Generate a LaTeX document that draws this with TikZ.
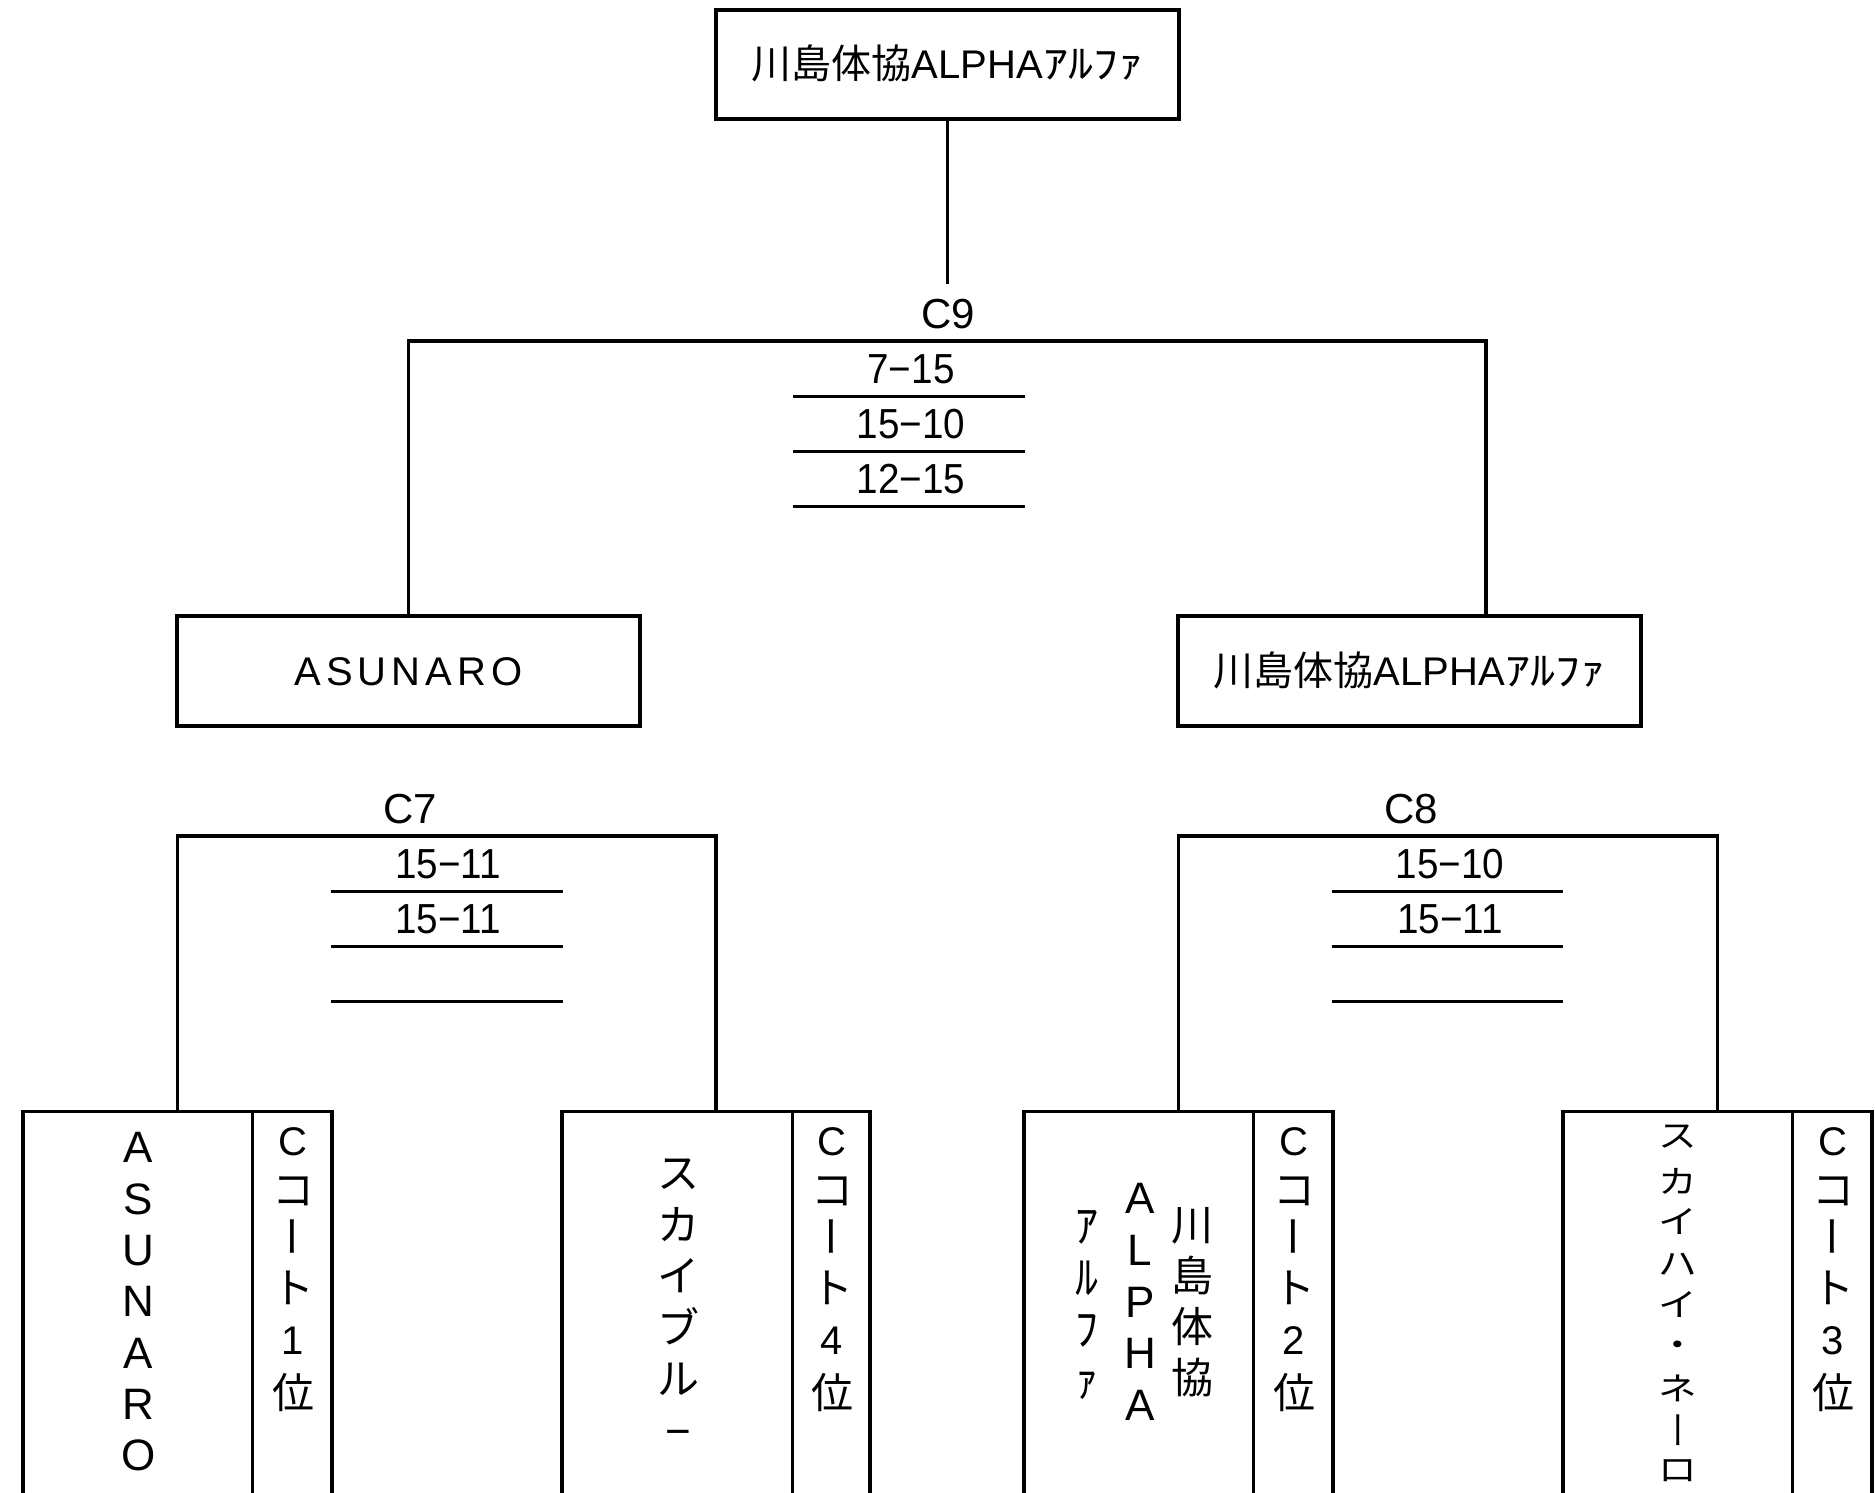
\documentclass[tikz,border=0pt]{standalone}
\usepackage{fontspec}
\setmainfont{Liberation Sans}
\newfontfamily\jp{Noto Sans CJK JP}
\newfontfamily\nar[FakeStretch=0.92]{Liberation Sans}
\begin{document}
\begin{tikzpicture}[x=1pt,y=-1pt,
  line/.style={line width=3.3pt},
  sline/.style={line width=3pt},
  frame/.style={draw, line width=3.3pt, rectangle, inner sep=0pt},
  vch/.style={inner sep=0pt, text depth=0pt, anchor=center},
  boxtxt/.style={font=\fontsize{40}{40}\selectfont, text height=28.8pt, text depth=0pt},
  lbl/.style={vch, text height=30.2pt, font=\fontsize{42}{42}\selectfont},
  score/.style={vch, text height=30.2pt, font=\nar\fontsize{42}{42}\selectfont},
  nl/.style={vch, text height=31.7pt, font=\fontsize{44}{44}\selectfont},
  nj/.style={vch, text height=31.9pt, font=\jp\fontsize{42}{42}\selectfont},
  nk/.style={vch, text height=35pt, font=\jp\fontsize{46}{46}\selectfont},
  cl/.style={vch, text height=28.8pt, font=\fontsize{40}{40}\selectfont},
  cj/.style={vch, text height=31.9pt, font=\jp\fontsize{42}{42}\selectfont},
  cjr/.style={cj, rotate=90},
  sq/.style={vch, text height=24.3pt, font=\jp\fontsize{42}{42}\selectfont},
  rotch/.style={rotate=90},
  nr/.style={}
]
\useasboundingbox (0,0) rectangle (1875,1492);
\fill[white] (0,0) rectangle (1875,1492);
\begin{scope}
\clip (0,0) rectangle (1875,1492);

% ---- top box and final
\node[frame, boxtxt, minimum width=463pt, minimum height=109pt] (top) at (947.5,64.5)
  {{\jp 川島体協}ALPHA{\jp\scalebox{1.25}[1]{ｱﾙﾌｧ}}};
\coordinate (t1) at (947.5,284);
\draw[line] (top.south) -- (t1);

\node[lbl] (c9) at (948,313) {C9};
\node[frame, boxtxt, minimum width=463pt, minimum height=110pt] (midL) at (408.5,671)
  {A\kern5pt S\kern5pt U\kern5pt N\kern5pt A\kern5pt R\kern5pt O};
\node[frame, boxtxt, minimum width=463pt, minimum height=110pt] (midR) at (1409.5,671)
  {{\jp 川島体協}ALPHA{\jp\scalebox{1.25}[1]{ｱﾙﾌｧ}}};
\coordinate (c9l) at (408.5,341);
\coordinate (c9r) at (1486,341);
\draw[line] (midL.north) -- (c9l) -- (c9r) -- (c9r |- midR.north);

% C9 scores
\node[score] (s91) at (911,368) {7−15};
\node[score] (s92) at (911,423) {15−10};
\node[score] (s93) at (911,478) {12−15};
\foreach \y in {396,451,506} \draw[sline] (793,\y) -- (1025,\y);

% ---- bottom boxes
\node[frame, minimum width=309pt, minimum height=450pt, anchor=north] (b1) at (177.5,1110) {};
\node[frame, minimum width=308pt, minimum height=450pt, anchor=north] (b2) at (716,1110) {};
\node[frame, minimum width=309pt, minimum height=450pt, anchor=north] (b3) at (1178.5,1110) {};
\node[frame, minimum width=309pt, minimum height=450pt, anchor=north] (b4) at (1717.5,1110) {};
\draw[line] ([xshift=231pt]b1.north west) -- ++(0,450);
\draw[line] ([xshift=232pt]b2.north west) -- ++(0,450);
\draw[line] ([xshift=231pt]b3.north west) -- ++(0,450);
\draw[line] ([xshift=231pt]b4.north west) -- ++(0,450);

% C7 bracket
\node[lbl] (c7) at (410,808) {C7};
\coordinate (c7l) at (177.5,836);
\coordinate (c7r) at (716,836);
\draw[line] (b1.north) -- (c7l) -- (c7r) -- (b2.north);
\node[score] (s71) at (448,863) {15−11};
\node[score] (s72) at (448,918) {15−11};
\foreach \y in {891,946,1001} \draw[sline] (331,\y) -- (563,\y);

% C8 bracket
\node[lbl] (c8) at (1411,808) {C8};
\coordinate (c8l) at (1178.5,836);
\coordinate (c8r) at (1717.5,836);
\draw[line] (b3.north) -- (c8l) -- (c8r) -- (b4.north);
\node[score] (s81) at (1450,863) {15−10};
\node[score] (s82) at (1450,918) {15−11};
\foreach \y in {891,946,1001} \draw[sline] (1332,\y) -- (1563,\y);

% ---- box 1 : ASUNARO / Cコート1位
\foreach \c [count=\i from 0] in {A,S,U,N,A,R,O}
  \node[nl] (n1-\i) at (138.5,{1147+51.3*\i}) {\c};
\foreach \y/\c/\s [count=\i] in {1141/C/cl,1190/コ/cj,1236/ー/cjr,1288/ト/cj,1340/1/cl,1393/位/cj}
  \node[\s] (k1-\i) at (293,\y) {\c};

% ---- box 2 : スカイブル− / Cコート4位
\foreach \c [count=\i from 0] in {ス,カ,イ,ブ,ル}
  \node[nj] (n2-\i) at (678,{1173+51.4*\i}) {\c};
\node[nl] (n2-5) at (678,1431) {−};
\foreach \y/\c/\s [count=\i] in {1141/C/cl,1190/コ/cj,1236/ー/cjr,1288/ト/cj,1340/4/cl,1393/位/cj}
  \node[\s] (k2-\i) at (832,\y) {\c};

% ---- box 3 : 川島体協 ALPHA ｱﾙﾌｧ / Cコート2位
\foreach \c [count=\i from 0] in {川,島,体,協}
  \node[nj] (n3a-\i) at (1192,{1225+50.7*\i}) {\c};
\foreach \c [count=\i from 0] in {A,L,P,H,A}
  \node[nl] (n3b-\i) at (1140,{1198+51.7*\i}) {\c};
\foreach \c [count=\i from 0] in {ｱ,ﾙ,ﾌ,ｧ}
  \node[nk] (n3c-\i) at (1087,{1225+51.5*\i}) {\c};
\foreach \y/\c/\s [count=\i] in {1141/C/cl,1190/コ/cj,1236/ー/cjr,1288/ト/cj,1340/2/cl,1393/位/cj}
  \node[\s] (k3-\i) at (1294,\y) {\c};

% ---- box 4 : スカイハイ・ネーロ / Cコート3位
\foreach \y/\c/\s [count=\i] in {1135/ス/nr,1181/カ/nr,1221/イ/nr,1263/ハ/nr,1304/イ/nr,1344/・/nr,1388/ネ/nr,1430/ー/rotch,1469/ロ/nr}
  \node[sq,\s] (n4-\i) at (1678,\y) {\scalebox{0.92}[0.76]{\c}};
\foreach \y/\c/\s [count=\i] in {1141/C/cl,1190/コ/cj,1236/ー/cjr,1288/ト/cj,1340/3/cl,1393/位/cj}
  \node[\s] (k4-\i) at (1833,\y) {\c};
\end{scope}
\end{tikzpicture}
\end{document}
